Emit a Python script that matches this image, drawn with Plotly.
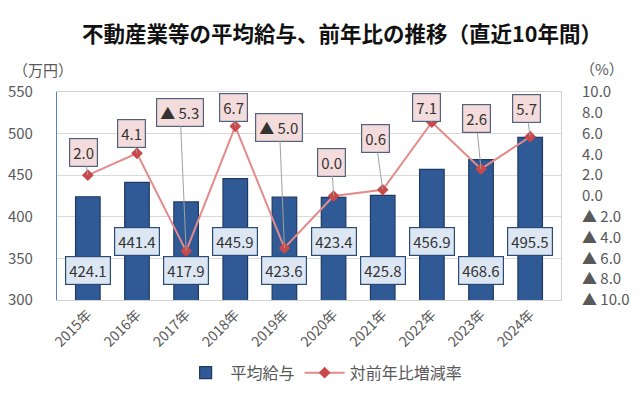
import plotly.graph_objects as go

years = ["2015年", "2016年", "2017年", "2018年", "2019年", "2020年", "2021年", "2022年", "2023年", "2024年"]
salary = [424.1, 441.4, 417.9, 445.9, 423.6, 423.4, 425.8, 456.9, 468.6, 495.5]
yoy = [2.0, 4.1, -5.3, 6.7, -5.0, 0.0, 0.6, 7.1, 2.6, 5.7]
right_tickvals = [10, 8, 6, 4, 2, 0, -2, -4, -6, -8, -10]
right_ticktext = ["10.0", "8.0", "6.0", "4.0", "2.0", "0.0", "▲ 2.0", "▲ 4.0", "▲ 6.0", "▲ 8.0", "▲ 10.0"]
left_tickvals = [300, 350, 400, 450, 500, 550]

# label offsets (pixels) for the growth-rate callouts
yoy_offsets = [(-4, -23), (-5, -20), (-6, -139), (-2, -19), (-5, -121),
               (-2, -34), (-7, -51), (-5, -15), (-5, -50), (-4, -28)]
bar_label_levels = [335, 370]

FONT = "Noto Sans CJK JP"
GRAY = "#595959"
px0, px1, py0, py1 = 57, 561, 92, 300  # plot area in pixels

fig = go.Figure()
fig.add_trace(go.Bar(
    x=years, y=salary, name="平均給与",
    marker=dict(color="#2f5a95", line=dict(color="#1f3a63", width=1.2)),
    width=0.5, yaxis="y",
))
fig.add_trace(go.Scatter(
    x=years, y=yoy, name="対前年比増減率", yaxis="y2",
    mode="lines+markers",
    line=dict(color="#e48a8a", width=2),
    marker=dict(symbol="diamond", size=9, color="#c9484a"),
))

annotations = []
for i, (yr, v) in enumerate(zip(years, salary)):
    annotations.append(dict(
        x=yr, y=bar_label_levels[i % 2], xref="x", yref="y",
        text=f"{v:.1f}", showarrow=False,
        font=dict(family=FONT, size=15, color="#333333"),
        bgcolor="#dde7f3", bordercolor="#2a4a78", borderwidth=1.2, borderpad=3,
    ))

def fmt(v):
    return f"▲ {abs(v):.1f}" if v < 0 else f"{v:.1f}"

for yr, v, (ax, ay) in zip(years, yoy, yoy_offsets):
    annotations.append(dict(
        x=yr, y=v, xref="x", yref="y2",
        text=fmt(v), showarrow=True, arrowhead=0, arrowwidth=1,
        arrowcolor="#a0a0a0", ax=ax, ay=ay, standoff=0,
        font=dict(family=FONT, size=15, color="#333333"),
        bgcolor="#f3dcdb", bordercolor="#52617e", borderwidth=1.2, borderpad=3,
    ))

annotations.append(dict(x=(11 - px0) / (px1 - px0), y=(py1 - 70) / (py1 - py0),
                        xref="paper", yref="paper", text="（万円）", showarrow=False,
                        xanchor="left", yanchor="middle",
                        font=dict(family=FONT, size=15, color=GRAY)))
annotations.append(dict(x=(578 - px0) / (px1 - px0), y=(py1 - 68) / (py1 - py0),
                        xref="paper", yref="paper", text="（%）", showarrow=False,
                        xanchor="left", yanchor="middle",
                        font=dict(family=FONT, size=15, color=GRAY)))

fig.update_layout(
    width=640, height=398,
    margin=dict(l=px0, r=640 - px1, t=py0, b=398 - py1, autoexpand=False),
    paper_bgcolor="white", plot_bgcolor="white",
    font=dict(family=FONT, color=GRAY),
    title=dict(text="<b>不動産業等の平均給与、前年比の推移（直近10年間）</b>",
               x=342 / 640, xanchor="center", y=1 - 34 / 398, yanchor="middle",
               font=dict(family=FONT, size=21.5, color="#111111")),
    xaxis=dict(
        tickangle=-45, tickfont=dict(family=FONT, size=14, color=GRAY),
        showline=True, linecolor="#d0d0d0", linewidth=1, mirror=True,
        showgrid=False, ticks="", automargin=False,
    ),
    yaxis=dict(
        range=[300, 550], tickvals=left_tickvals,
        tickfont=dict(family=FONT, size=15, color=GRAY),
        showgrid=True, gridcolor="#d9d9d9", gridwidth=1,
        showline=True, linecolor="#5b7fc4", linewidth=1.2,
        zeroline=False, ticks="", ticklabelstandoff=20, automargin=False,
    ),
    yaxis2=dict(
        range=[-10, 10], overlaying="y", side="right",
        tickvals=right_tickvals, ticktext=right_ticktext,
        tickfont=dict(family=FONT, size=15, color=GRAY),
        showgrid=False, zeroline=False, showline=True, linecolor="#d0d0d0",
        ticks="", ticklabelstandoff=17, automargin=False,
    ),
    legend=dict(orientation="h", x=0.53, xanchor="center", y=-0.35, yanchor="middle",
                font=dict(family=FONT, size=16, color=GRAY), traceorder="normal",
                itemwidth=40),
    showlegend=True,
    annotations=annotations,
)
fig.write_html("out.html", config={"displayModeBar": False},
               post_script="document.body.style.margin='0';")
